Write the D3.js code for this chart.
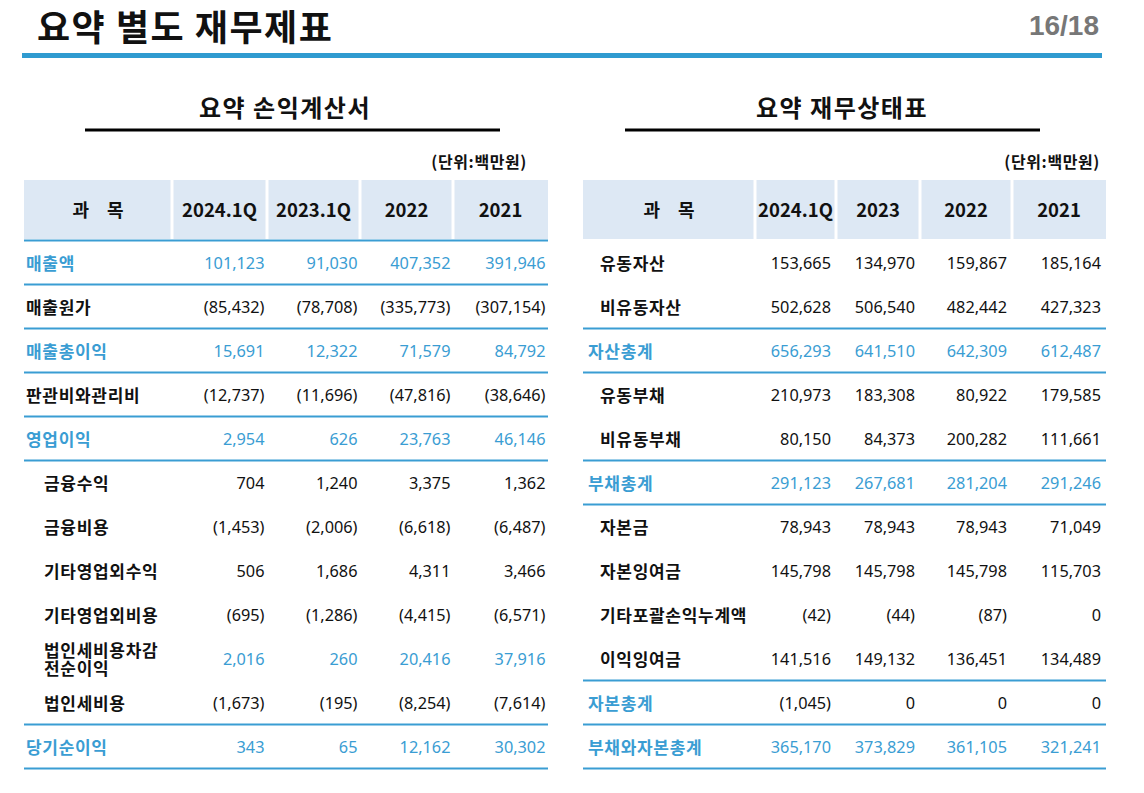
<!DOCTYPE html>
<html>
<head>
<meta charset="utf-8">
<script src="https://cdn.jsdelivr.net/npm/d3@7"></script>
<style>
  body { margin: 0; background: #fff; }
  svg { display: block; font-family: "Noto Sans CJK KR", "Noto Sans", sans-serif; }
  .num { font-family: "Noto Sans", "Noto Sans CJK KR", sans-serif; }
</style>
</head>
<body>
<div id="page"></div>
<script>
// 요약 손익계산서 (단위: 백만원)
var isItems = ["매출액", "매출원가", "매출총이익", "판관비와관리비", "영업이익", "금융수익", "금융비용",
               "기타영업외수익", "기타영업외비용", "법인세비용차감|전순이익", "법인세비용", "당기순이익"];
var isCols = ["2024.1Q", "2023.1Q", "2022", "2021"];
var is2024Q1 = [101123, -85432, 15691, -12737, 2954, 704, -1453, 506, -695, 2016, -1673, 343];
var is2023Q1 = [91030, -78708, 12322, -11696, 626, 1240, -2006, 1686, -1286, 260, -195, 65];
var is2022   = [407352, -335773, 71579, -47816, 23763, 3375, -6618, 4311, -4415, 20416, -8254, 12162];
var is2021   = [391946, -307154, 84792, -38646, 46146, 1362, -6487, 3466, -6571, 37916, -7614, 30302];

// 요약 재무상태표 (단위: 백만원)
var bsItems = ["유동자산", "비유동자산", "자산총계", "유동부채", "비유동부채", "부채총계", "자본금",
               "자본잉여금", "기타포괄손익누계액", "이익잉여금", "자본총계", "부채와자본총계"];
var bsCols = ["2024.1Q", "2023", "2022", "2021"];
var bs2024Q1 = [153665, 502628, 656293, 210973, 80150, 291123, 78943, 145798, -42, 141516, -1045, 365170];
var bs2023   = [134970, 506540, 641510, 183308, 84373, 267681, 78943, 145798, -44, 149132, 0, 373829];
var bs2022   = [159867, 482442, 642309, 80922, 200282, 281204, 78943, 145798, -87, 136451, 0, 361105];
var bs2021   = [185164, 427323, 612487, 179585, 111661, 291246, 71049, 115703, 0, 134489, 0, 321241];

var BLUE = "#3a9dd3", HEAD_BG = "#dde8f4", INK = "#111";

function SummaryTable(){
  var title, cols, items, series, kinds, lines, headerLine = false;
  var widths, x0 = 0, top = 180, headH = 60, rowH = 44;
  var mainPad = 2, subPad = 20, numPad = 3;

  var fmt = d3.format(",");
  function show(v){ return v < 0 ? "(" + fmt(-v) + ")" : fmt(v); }

  function my(selection){
    selection.each(function(){
      var g = d3.select(this);
      var keys = ["item"].concat(cols);
      var edges = [x0];
      widths.forEach(function(w){ edges.push(edges[edges.length - 1] + w); });
      var xl = d3.scaleOrdinal().domain(keys).range(edges.slice(0, -1));
      var xr = d3.scaleOrdinal().domain(keys).range(edges.slice(1));
      var y = d3.scaleBand()
          .domain(d3.range(items.length))
          .range([top + headH, top + headH + items.length * rowH]);
      var right = edges[edges.length - 1];

      // header cells
      g.selectAll(".head")
          .data(keys)
        .enter().append("rect")
          .attr("class", "head")
          .attr("x", function(d){ return xl(d) + (d === "item" ? 0 : 1.5); })
          .attr("width", function(d, i){ return xr(d) - xl(d) - (d === "item" ? 1.5 : 3) + (i === keys.length - 1 ? 1.5 : 0); })
          .attr("y", top)
          .attr("height", headH - 1)
          .attr("fill", HEAD_BG);

      g.selectAll(".headText")
          .data(keys)
        .enter().append("text")
          .attr("class", "headText")
          .attr("x", function(d){ return (xl(d) + xr(d)) / 2; })
          .attr("y", top + headH / 2)
          .attr("dy", "0.38em")
          .attr("text-anchor", "middle")
          .attr("font-weight", "bold")
          .attr("font-size", function(d){ return d === "item" ? 18 : 18.5; })
          .attr("word-spacing", function(d){ return d === "item" ? 14 : 0; })
          .attr("fill", INK)
          .text(function(d){ return d === "item" ? "과 목" : d; });

      // blue rules
      var ruleY = lines.map(function(i){ return y(i) + rowH; });
      if (headerLine) ruleY.unshift(top + headH);
      g.selectAll(".rule")
          .data(ruleY)
        .enter().append("line")
          .attr("class", "rule")
          .attr("x1", x0).attr("x2", right)
          .attr("y1", function(d){ return d + 0.5; })
          .attr("y2", function(d){ return d + 0.5; })
          .attr("stroke", BLUE)
          .attr("stroke-width", 2.2);

      // row labels
      var labels = g.selectAll(".label")
          .data(items)
        .enter().append("text")
          .attr("class", "label")
          .attr("x", function(d, i){ return x0 + (kinds[i].charAt(0) === "s" ? subPad : mainPad); })
          .attr("y", function(d, i){ return y(i) + rowH / 2; })
          .attr("dy", "0.48em")
          .attr("font-weight", "bold")
          .attr("font-size", 17)
          .attr("letter-spacing", 0.7)
          .attr("fill", function(d, i){ return kinds[i].charAt(0) === "t" ? BLUE : INK; });
      labels.each(function(d){
        var parts = d.split("|"), t = d3.select(this);
        if (parts.length === 1) { t.text(d); return; }
        t.attr("dy", null);
        parts.forEach(function(p, k){
          t.append("tspan")
            .attr("x", t.attr("x"))
            .attr("dy", k === 0 ? "-0.07em" : "1.08em")
            .text(p);
        });
      });

      // values
      cols.forEach(function(c, ci){
        g.selectAll(".v" + ci)
            .data(series[ci])
          .enter().append("text")
            .attr("class", "num v" + ci)
            .attr("x", xr(c) - numPad)
            .attr("y", function(d, i){ return y(i) + rowH / 2; })
            .attr("dy", "0.46em")
            .attr("text-anchor", "end")
            .attr("font-size", 16.3)
            .attr("fill", function(d, i){
              var k = kinds[i];
              return (k === "t" || k === "sv") ? BLUE : INK;
            })
            .text(show);
      });

      // section title, underline, unit
      g.append("text")
          .attr("x", title.cx)
          .attr("y", 117)
          .attr("text-anchor", "middle")
          .attr("font-weight", "bold")
          .attr("font-size", 24)
          .attr("letter-spacing", 1.5)
          .attr("fill", INK)
          .text(title.text);
      g.append("rect")
          .attr("x", title.u0).attr("width", title.u1 - title.u0)
          .attr("y", 128.5).attr("height", 3)
          .attr("fill", "#000");
      g.append("text")
          .attr("x", title.unitX)
          .attr("y", 168)
          .attr("text-anchor", "end")
          .attr("font-weight", "bold")
          .attr("font-size", 16)
          .attr("letter-spacing", 0.6)
          .attr("fill", INK)
          .text("(단위:백만원)");
    });
  }

  my.title = function(v){ if(!arguments.length) return title; title = v; return my; };
  my.columns = function(v){ if(!arguments.length) return cols; cols = v; return my; };
  my.items = function(v){ if(!arguments.length) return items; items = v; return my; };
  my.series = function(v){ if(!arguments.length) return series; series = v; return my; };
  my.kinds = function(v){ if(!arguments.length) return kinds; kinds = v; return my; };
  my.lines = function(v){ if(!arguments.length) return lines; lines = v; return my; };
  my.headerLine = function(v){ if(!arguments.length) return headerLine; headerLine = v; return my; };
  my.widths = function(v){ if(!arguments.length) return widths; widths = v; return my; };
  my.x = function(v){ if(!arguments.length) return x0; x0 = v; return my; };
  my.pads = function(a, b, c){ mainPad = a; subPad = b; numPad = c; return my; };

  return my;
}

var svg = d3.select("#page").append("svg")
    .attr("width", 1144)
    .attr("height", 793);

// page title and bar
svg.append("text")
    .attr("x", 37).attr("y", 41)
    .attr("font-weight", "bold")
    .attr("font-size", 36)
    .attr("letter-spacing", 1.5)
    .attr("fill", INK)
    .text("요약 별도 재무제표");
svg.append("text")
    .attr("x", 1099).attr("y", 35)
    .attr("text-anchor", "end")
    .attr("font-family", "'Liberation Sans', Arial, sans-serif")
    .attr("font-weight", "bold")
    .attr("font-size", 28)
    .attr("fill", "#777")
    .text("16/18");
svg.append("rect")
    .attr("x", 22).attr("width", 1080)
    .attr("y", 53).attr("height", 5)
    .attr("fill", "#2f9bd0");

// t = total (blue), m = main, s = sub (indented), sv = sub with blue values, tl = blue label only
var income = SummaryTable()
    .title({text: "요약 손익계산서", cx: 285, u0: 85, u1: 500, unitX: 527})
    .columns(isCols)
    .items(isItems)
    .series([is2024Q1, is2023Q1, is2022, is2021])
    .kinds(["t", "m", "t", "m", "t", "s", "s", "s", "s", "sv", "s", "t"])
    .lines([0, 1, 2, 3, 4, 10, 11])
    .headerLine(true)
    .widths([148, 95, 93, 93, 95])
    .x(24)
    .pads(2, 20, 2.5);

var balance = SummaryTable()
    .title({text: "요약 재무상태표", cx: 842, u0: 625, u1: 1040, unitX: 1100})
    .columns(bsCols)
    .items(bsItems)
    .series([bs2024Q1, bs2023, bs2022, bs2021])
    .kinds(["s", "s", "t", "s", "s", "t", "s", "s", "s", "s", "tl", "t"])
    .lines([1, 2, 4, 5, 9, 10, 11])
    .headerLine(false)
    .widths([172, 81, 84, 92, 94])
    .x(583)
    .pads(5, 17, 5);

svg.append("g").call(income);
svg.append("g").call(balance);
</script>
</body>
</html>
